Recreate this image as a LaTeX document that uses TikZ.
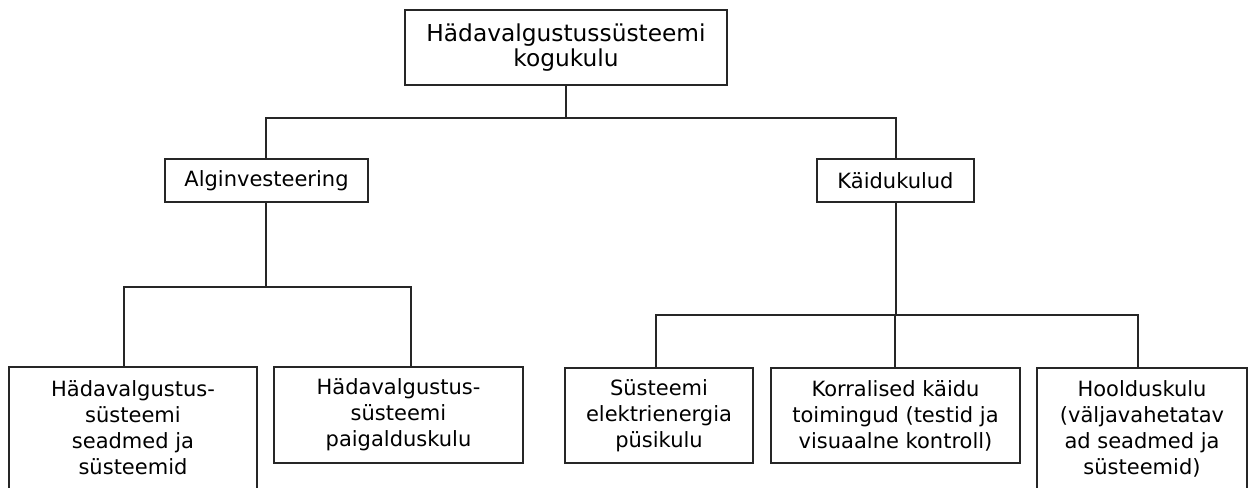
\documentclass[tikz,border=0pt]{standalone}
\usepackage{fontspec}
\setmainfont{DejaVu Sans}
\begin{document}
\begin{tikzpicture}[x=1pt,y=-1pt,
  box/.style={draw=black!85, line width=1.3pt, fill=white, align=center, inner sep=0pt,
    font=\fontsize{21}{26}\selectfont},
  conn/.style={draw=black!85, line width=1.3pt}]
\useasboundingbox (0,0) rectangle (1252,487);
\begin{scope}
\clip (0,0) rectangle (1252,487);
\node[box, minimum width=322pt, minimum height=75pt, font=\fontsize{23.3}{25}\selectfont] (top) at (566,47.5) {Hädavalgustussüsteemi\\kogukulu};
\node[box, minimum width=203pt, minimum height=43pt] (alg) at (266.5,180.5) {Alginvesteering};
\node[box, minimum width=157pt, minimum height=43pt] (kai) at (895.5,180.5) {Käidukulud};
\node[box, minimum width=248pt, minimum height=122pt] (b1) at (133,428) {Hädavalgustus-\\süsteemi\\seadmed ja\\süsteemid};
\node[box, minimum width=249pt, minimum height=96pt] (b2) at (398.5,415) {Hädavalgustus-\\süsteemi\\paigalduskulu};
\node[box, minimum width=188pt, minimum height=95pt] (b3) at (659,415.5) {Süsteemi\\elektrienergia\\püsikulu};
\node[box, minimum width=249pt, minimum height=95pt] (b4) at (895.5,415.5) {Korralised käidu\\toimingud (testid ja\\visuaalne kontroll)};
\node[box, minimum width=210pt, minimum height=122pt] (b5) at (1142,429) {Hoolduskulu\\(väljavahetatav\\ad seadmed ja\\süsteemid)};
\end{scope}
\coordinate (h0) at (566,118);
\coordinate (h0l) at (266,118);
\coordinate (h0r) at (896,118);
\coordinate (h1) at (266,287);
\coordinate (h1l) at (124,287);
\coordinate (h1r) at (411,287);
\coordinate (h2) at (896,315);
\coordinate (h2l) at (656,315);
\coordinate (h2m) at (895,315);
\coordinate (h2r) at (1138,315);
\draw[conn] (top.south) -- (h0);
\draw[conn] (alg.north -| h0l) -- (h0l) -- (h0r) -- (kai.north -| h0r);
\draw[conn] (alg.south -| h1) -- (h1);
\draw[conn] (b1.north -| h1l) -- (h1l) -- (h1r) -- (b2.north -| h1r);
\draw[conn] (kai.south -| h2) -- (h2);
\draw[conn] (b3.north -| h2l) -- (h2l) -- (h2r) -- (b5.north -| h2r);
\draw[conn] (h2m) -- (b4.north -| h2m);
\end{tikzpicture}
\end{document}
